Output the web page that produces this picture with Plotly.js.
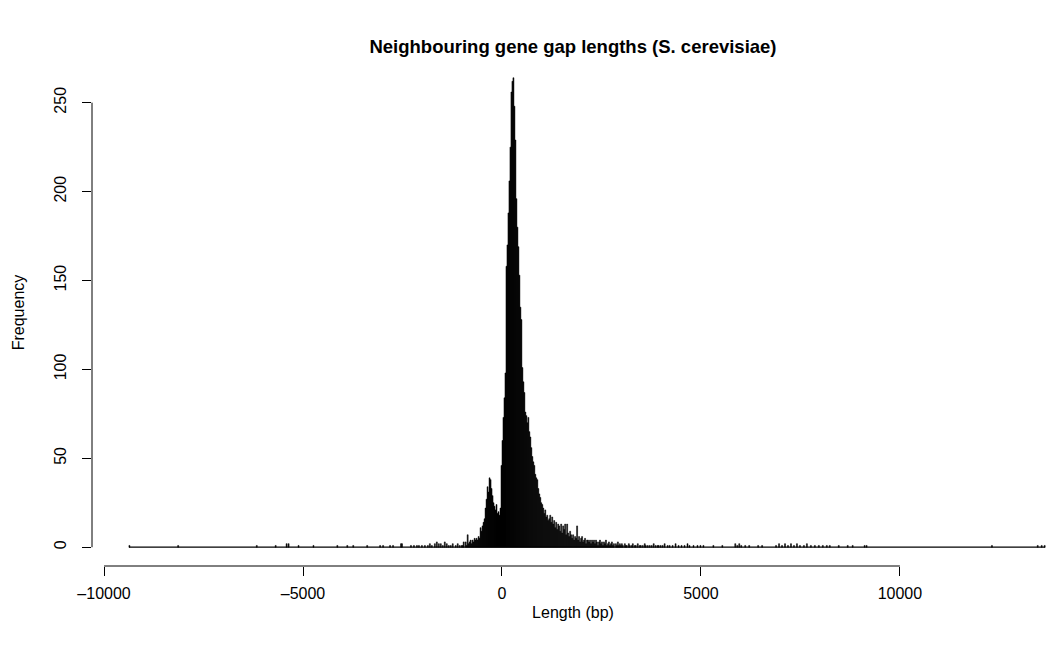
<!DOCTYPE html>
<html>
<head>
<meta charset="utf-8">
<script src="https://cdn.plot.ly/plotly-3.0.1.min.js"></script>
<style>
html,body{margin:0;padding:0;background:#fff;}
#chart{width:1054px;height:654px;}
</style>
</head>
<body>
<div id="chart"></div>
<script>
// Histogram of neighbouring gene gap lengths (bp), bins of 25 bp
const binWidth = 25;
const histMin = -9375;   // first bin edge
const histMax = 13650;   // last bin edge

// Dense block of bins starting at coreStart
const coreStart = -1000;
const coreCounts = [
  1,3,0,3,1,7,2,3,4,2, 4,3,5,4,5,4,6,5,11,9,
  12,14,16,22,27,34,31,39,38,33, 29,25,23,21,24,19,20,18,22,46,
  60,73,84,98,158,170,188,206,225,256, 262,264,248,229,196,180,169,153,135,128,
  101,93,87,76,74,70,73,65,62,56, 51,48,46,41,39,38,33,30,28,25,
  24,22,19,21,17,18,15,16,18,14, 17,13,15,11,14,10,13,12,9,13,
  8,12,10,13,7,13,8,6,9,7, 5,7,4,6,5,12,4,6,3,5,
  6,3,4,5,2,4,4,3,4,2, 4,3,4,2,4,3,1,3,4,2,
  3,1,3,2,4,1,2,3,1,2, 3,1,2,0,2,1,3,1,2,1,
  2,1,0,2,1,1,0,2,1,0, 1,2,0,1,1,0,2,0,1,1,
  0,1,0,2,1,0,1,0,1,0, 1,0,2,0,1,0,1,1,0,1
];

// Sparse tail bins (bin start edge) and their counts
const tailBinStarts = [
  -9375,-8150,-6175,-5700,-5425,-5375,-5125,-4750,-4150,-3900,-3750,-3400,
  -3075,-3000,-2825,-2750,-2550,-2525,-2300,-2225,-2150,-2100,-2025,-1950,
  -1875,-1825,-1775,-1700,-1650,-1600,-1550,-1500,-1450,-1400,-1350,-1300,
  -1250,-1175,-1125,-1075,-1025,
  4025,4075,4150,4200,4275,4350,4425,4500,4575,4650,4700,4800,4900,4975,
  5050,5300,5525,5850,5900,5950,6000,6100,6200,6425,6525,6875,6950,7025,
  7100,7175,7250,7325,7400,7475,7575,7650,7750,7850,7950,8050,8150,8225,
  8450,8675,8800,9100,9150,12300,13450,13550,13625
];
const tailCounts = [
  1,1,1,1,2,2,1,1,1,1,1,1,
  1,1,1,1,2,2,1,1,1,1,1,1,
  1,2,1,2,3,2,2,1,3,2,1,1,
  2,1,2,1,1,
  1,2,1,1,1,2,1,1,1,2,1,1,1,1,
  1,1,1,2,1,2,1,1,1,1,1,1,2,1,
  2,1,2,1,2,1,1,2,1,1,1,1,1,1,
  1,1,1,1,1,1,1,1,1
];

const xTickVals = [-10000, -5000, 0, 5000, 10000];
const yTickVals = [0, 50, 100, 150, 200, 250];

// Build bar arrays
const xs = [], ys = [];
coreCounts.forEach((c, i) => { if (c > 0) { xs.push(coreStart + binWidth * i + binWidth / 2); ys.push(c); } });
tailBinStarts.forEach((s, i) => { xs.push(s + binWidth / 2); ys.push(tailCounts[i]); });

const font = 'Liberation Sans, Arial, Helvetica, sans-serif';

const traces = [
  {
    type: 'scatter', mode: 'lines',
    x: [histMin, histMax], y: [0, 0],
    line: {color: '#000', width: 1.2},
    hoverinfo: 'skip', showlegend: false
  },
  {
    type: 'bar', x: xs, y: ys, width: binWidth,
    marker: {color: '#000', line: {color: '#000', width: 0.5}},
    showlegend: false
  }
];

const layout = {
  width: 1054, height: 654,
  paper_bgcolor: '#fff', plot_bgcolor: '#fff',
  margin: {l: 92, r: 0, t: 59, b: 88, pad: 0},
  bargap: 0,
  showlegend: false,
  font: {family: font, size: 16, color: '#000'},
  title: {
    text: 'Neighbouring gene gap lengths (S. cerevisiae)',
    font: {family: font, size: 18.5, weight: 'bold', color: '#000'},
    x: 0.5, xref: 'paper', xanchor: 'center',
    y: 1 - 47 / 654, yref: 'container', yanchor: 'middle'
  },
  xaxis: {
    range: [-10303, 13872],
    tickvals: xTickVals, ticktext: xTickVals.map(v => v < 0 ? '\u2013' + Math.abs(v) : String(v)),
    ticks: 'outside', ticklen: 9, tickwidth: 1, tickcolor: '#000',
    ticklabelstandoff: 4,
    showline: false, showgrid: false, zeroline: false,
    tickfont: {family: font, size: 16, color: '#000'},
    title: {text: 'Length (bp)', font: {family: font, size: 16, color: '#000'}, standoff: 5},
    fixedrange: true
  },
  yaxis: {
    range: [-10.56, 274.56],
    tickvals: yTickVals,
    tickangle: -90,
    ticks: 'outside', ticklen: 9, tickwidth: 1, tickcolor: '#000',
    ticklabelstandoff: 10,
    showline: false, showgrid: false, zeroline: false,
    tickfont: {family: font, size: 16, color: '#000'},
    title: {text: 'Frequency', font: {family: font, size: 16, color: '#000'}, standoff: 22},
    fixedrange: true
  },
  shapes: [
    {type: 'line', xref: 'x', yref: 'paper', x0: xTickVals[0], x1: xTickVals[xTickVals.length - 1], y0: 0, y1: 0,
     line: {color: '#000', width: 1}},
    {type: 'line', xref: 'paper', yref: 'y', x0: 0, x1: 0, y0: yTickVals[0], y1: yTickVals[yTickVals.length - 1],
     line: {color: '#000', width: 1}}
  ]
};

Plotly.newPlot('chart', traces, layout, {displayModeBar: false, staticPlot: true});
</script>
</body>
</html>
